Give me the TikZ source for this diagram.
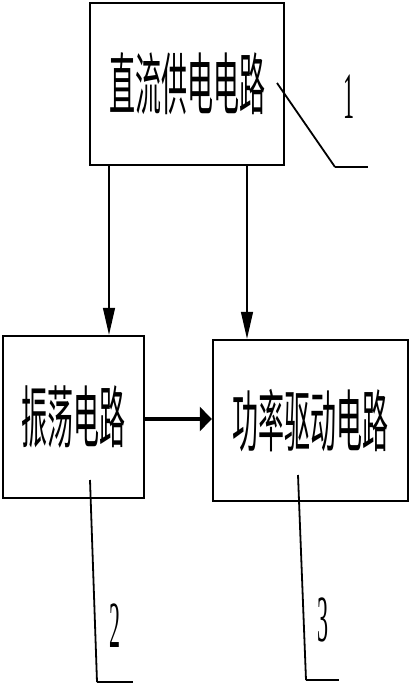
\documentclass[tikz,border=0pt]{standalone}
\usepackage{fontspec}
\setmainfont{Liberation Serif}
\newfontfamily\cjk{Noto Sans CJK SC}
\usetikzlibrary{arrows.meta}
\newcommand{\cjktext}[1]{\scalebox{1}[2.6]{\cjk\fontsize{26}{26}\selectfont #1}}
\newcommand{\numtext}[1]{\scalebox{1}[3]{\fontsize{22}{22}\selectfont #1}}
\begin{document}
\begin{tikzpicture}[x=1pt,y=-1pt]
\tikzset{
  blockbox/.style={draw=black,line width=2.4pt,inner sep=0pt,fill=white},
  varrow/.style={line width=1.3pt,-{Triangle[length=27pt,width=12pt]}},
  harrow/.style={line width=3.5pt,-{Triangle[length=12pt,width=24pt]}},
  leader/.style={line width=1.8pt},
  leaderfoot/.style={line width=2.8pt},
  numlabel/.style={inner sep=0pt}
}
\useasboundingbox (0,0) rectangle (410,690);
\node[blockbox,minimum width=194pt,minimum height=162pt] (b1) at (187,84) {\cjktext{直流供电电路}};
\node[blockbox,minimum width=141pt,minimum height=162pt] (b2) at (73.5,417) {\cjktext{振荡电路}};
\node[blockbox,minimum width=195pt,minimum height=161pt] (b3) at (310.5,420.5) {\cjktext{功率驱动电路}};
\coordinate (xa) at (109,0);
\coordinate (xb) at (247,0);
\draw[varrow] (b1.south -| xa) -- (b2.north -| xa);
\draw[varrow] (b1.south -| xb) -- (b3.north -| xb);
\coordinate (ya) at (0,419);
\draw[harrow] (b2.east |- ya) -- (b3.west |- ya);
% leader 1
\coordinate (p1a) at (277,83);
\coordinate (p1b) at (335,167);
\coordinate (p1c) at (368,167);
\draw[leader] (p1a) -- (p1b);
\draw[leaderfoot] (p1b) -- (p1c);
\node[numlabel] (n1) at (349,97) {\numtext{1}};
% leader 2
\coordinate (p2a) at (90,480);
\coordinate (p2b) at (97,682);
\coordinate (p2c) at (133,682);
\draw[leader] (p2a) -- (p2b);
\draw[leaderfoot] (p2b) -- (p2c);
\node[numlabel] (n2) at (115,626) {\numtext{2}};
% leader 3
\coordinate (p3a) at (298,475);
\coordinate (p3b) at (306,680);
\coordinate (p3c) at (339,680);
\draw[leader] (p3a) -- (p3b);
\draw[leaderfoot] (p3b) -- (p3c);
\node[numlabel] (n3) at (323,620) {\numtext{3}};
\end{tikzpicture}
\end{document}
